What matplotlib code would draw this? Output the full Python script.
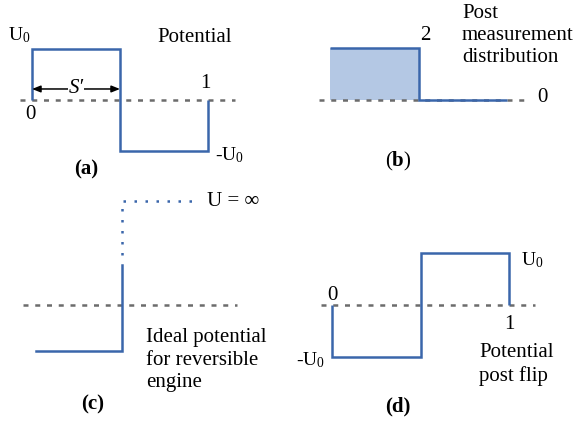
import numpy as np
import matplotlib.pyplot as plt

plt.rcParams['font.family'] = ['Liberation Serif', 'DejaVu Serif']
plt.rcParams['mathtext.fontset'] = 'custom'
plt.rcParams['mathtext.rm'] = 'Liberation Serif'
plt.rcParams['mathtext.it'] = 'Liberation Serif:italic'
plt.rcParams['mathtext.bf'] = 'Liberation Serif:bold'

# (a) potential, x in box lengths, levels in units of U0
a_edges = [0, 0.5, 1]
a_levels = [1, -1]
a_gap = 0.5  # S'

# (b) post measurement distribution
b_edges = [0, 0.5, 1]
b_levels = [2, 0]

# (c) ideal potential for reversible engine
c_well_x = [-1, 0]
c_well_level = -1
c_wall_top = 0.87
c_inf_bottom = 1.09
c_inf_level = 2.26
c_inf_end = 0.9

# (d) potential after the flip
d_edges = [0, 0.5, 1]
d_levels = [-1, 1]

BLUE = '#3a66ab'
FILL = '#b4c8e4'
GRAY = '#6c6c6c'
FS = 15
LS = 1.24

W, H = 579, 422
fig = plt.figure(figsize=(W / 100, H / 100), dpi=100)


def panel(box, origin, scale):
    # box in figure pixels, origin = pixel of data (0, 0), scale = pixels per unit
    L, T, R, B = box
    px0, py0 = origin
    sx, sy = scale
    ax = fig.add_axes([L / W, 1 - B / H, (R - L) / W, (B - T) / H])
    ax.set_xlim((L - px0) / sx, (R - px0) / sx)
    ax.set_ylim((py0 - B) / sy, (py0 - T) / sy)
    ax.axis('off')
    return ax


def baseline(ax, x0, x1):
    ax.plot([x0, x1], [0, 0], color=GRAY, lw=1.8, dashes=(2.0, 2.7), zorder=2)


step_kw = dict(color=BLUE, lw=1.8, joinstyle='miter', zorder=3)
line_kw = dict(color=BLUE, lw=1.8, solid_joinstyle='miter', zorder=3)

# ---- (a)
ax = panel((0, 0, 290, 190), (32, 100), (176, 51))
baseline(ax, -0.068, 1.153)
ax.stairs(a_levels, a_edges, baseline=0, **step_kw)
ax.annotate('', xy=(0, 0.216), xytext=(a_gap, 0.216),
            arrowprops=dict(arrowstyle='<|-|>,head_length=0.5,head_width=0.2',
                            color='black', lw=1.1, shrinkA=0, shrinkB=0,
                            mutation_scale=10))
ax.text(a_gap / 2, 0.216, 'S′', fontsize=FS, style='italic', ha='center', va='center',
        bbox=dict(fc='white', ec='none', pad=0.5), zorder=4)
ax.text(-0.074, 1.27, 'U$_0$', fontsize=14, ha='center', va='center')
ax.text(0.926, 1.22, 'Potential', fontsize=FS, ha='center', va='center')
ax.text(0.983, 0.33, '1', fontsize=FS, ha='center', va='center')
ax.text(-0.01, -0.29, '0', fontsize=FS, ha='center', va='center')
ax.text(1.04, -1.08, '-U$_0$', fontsize=14, ha='left', va='center')
ax.text(0.307, -1.37, '(a)', fontsize=FS, fontweight='bold', ha='center', va='center')

# ---- (b)
ax = panel((290, 0, 579, 190), (330, 100), (177, 26))
ax.stairs(b_levels, b_edges, baseline=0, fill=True, color=FILL, lw=0, zorder=1)
baseline(ax, -0.062, 1.13)
ax.stairs(b_levels, b_edges, baseline=None, **step_kw)
ax.text(0.54, 2.5, '2', fontsize=FS, ha='center', va='center')
ax.text(0.746, 2.48, 'Post\nmeasurement\ndistribution', fontsize=FS,
        ha='left', va='center', linespacing=LS)
ax.text(1.2, 0.1, '0', fontsize=FS, ha='center', va='center')
ax.text(0.384, -2.38, r'($\mathbf{b}$)', fontsize=FS, ha='center', va='center')

# ---- (c)
ax = panel((0, 190, 290, 422), (122, 305), (86, 46))
baseline(ax, -1.15, 1.34)
ax.plot([c_well_x[0], c_well_x[1], c_well_x[1]],
        [c_well_level, c_well_level, c_wall_top], **line_kw)
ax.plot([c_well_x[1], c_well_x[1], c_inf_end],
        [c_inf_bottom, c_inf_level, c_inf_level],
        color=BLUE, lw=1.8, dashes=(1, 3.4), zorder=3)
ax.text(0.99, 2.26, 'U = ∞', fontsize=FS, ha='left', va='center')
ax.text(0.28, -1.2, 'Ideal potential\nfor reversible\nengine', fontsize=FS,
        ha='left', va='center', linespacing=LS)
ax.text(-0.34, -2.17, '(c)', fontsize=FS, fontweight='bold', ha='center', va='center')

# ---- (d)
ax = panel((290, 190, 579, 422), (332, 305), (177, 52))
baseline(ax, -0.062, 1.147)
ax.stairs(d_levels, d_edges, baseline=0, **step_kw)
ax.text(1.07, 0.87, 'U$_0$', fontsize=14, ha='left', va='center')
ax.text(0.0, 0.19, '0', fontsize=FS, ha='center', va='center')
ax.text(-0.124, -1.06, '-U$_0$', fontsize=14, ha='center', va='center')
ax.text(1.0, -0.38, '1', fontsize=FS, ha='center', va='center')
ax.text(0.83, -1.14, 'Potential\npost flip', fontsize=FS, ha='left', va='center',
        linespacing=LS)
ax.text(0.37, -1.96, '(d)', fontsize=FS, fontweight='bold', ha='center', va='center')

fig.savefig('out.png', dpi=100)
